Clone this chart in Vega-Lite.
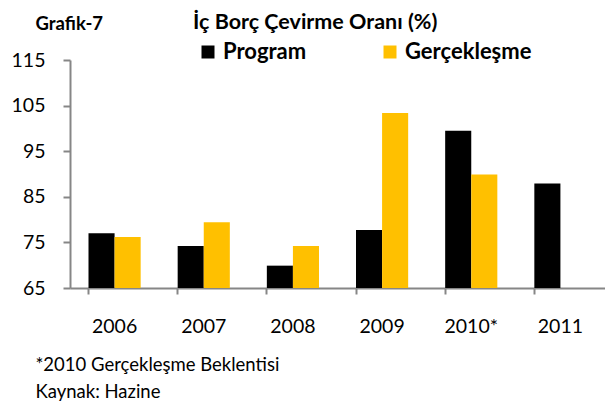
{
  "$schema": "https://vega.github.io/schema/vega-lite/v6.json",
  "width": 535,
  "height": 228,
  "autosize": {"type": "none"},
  "padding": {"left": 70, "top": 60, "right": 0, "bottom": 119},
  "background": "white",
  "config": {
    "font": "Lato",
    "view": {"stroke": null},
    "axis": {"labelFont": "Lato", "titleFont": "Lato"}
  },
  "title": {
    "text": "İç Borç Çevirme Oranı (%)",
    "anchor": "start",
    "frame": "group",
    "dx": 123,
    "dy": 31,
    "offset": 12,
    "font": "Lato",
    "fontSize": 21.5,
    "fontWeight": "bold",
    "color": "#000000"
  },
  "data": {
    "values": [
      {"yil": "2006", "seri": "Program", "oran": 77.0},
      {"yil": "2006", "seri": "Gerçekleşme", "oran": 76.2},
      {"yil": "2007", "seri": "Program", "oran": 74.2},
      {"yil": "2007", "seri": "Gerçekleşme", "oran": 79.4},
      {"yil": "2008", "seri": "Program", "oran": 69.9},
      {"yil": "2008", "seri": "Gerçekleşme", "oran": 74.2},
      {"yil": "2009", "seri": "Program", "oran": 77.7},
      {"yil": "2009", "seri": "Gerçekleşme", "oran": 103.4},
      {"yil": "2010*", "seri": "Program", "oran": 99.5},
      {"yil": "2010*", "seri": "Gerçekleşme", "oran": 89.9},
      {"yil": "2011", "seri": "Program", "oran": 87.9}
    ]
  },
  "mark": {"type": "bar"},
  "encoding": {
    "x": {
      "field": "yil",
      "type": "nominal",
      "sort": ["2006", "2007", "2008", "2009", "2010*", "2011"],
      "scale": {"paddingInner": 0.415, "paddingOuter": 0.2075},
      "axis": {
        "labelAngle": 0,
        "labelFontSize": 19.5,
        "labelColor": "#000000",
        "labelPadding": 23,
        "domainColor": "#868686",
        "domainWidth": 2,
        "tickColor": "#868686",
        "tickWidth": 2,
        "tickSize": 6,
        "bandPosition": 0,
        "title": ["*2010 Gerçekleşme Beklentisi", "Kaynak: Hazine"],
        "titleFontSize": 18.5,
        "titleFontWeight": "normal",
        "titleColor": "#000000",
        "titleAnchor": "start",
        "titleAlign": "left",
        "titleBaseline": "alphabetic",
        "titleX": -35,
        "titleY": 82,
        "titleLineHeight": 27
      }
    },
    "xOffset": {
      "field": "seri",
      "type": "nominal",
      "sort": ["Program", "Gerçekleşme"],
      "scale": {"domain": ["Program", "Gerçekleşme"], "paddingInner": 0, "paddingOuter": 0}
    },
    "y": {
      "field": "oran",
      "type": "quantitative",
      "scale": {"domain": [65, 115], "zero": false, "nice": false},
      "axis": {
        "values": [65, 75, 85, 95, 105, 115],
        "grid": false,
        "labelFontSize": 19.5,
        "labelColor": "#000000",
        "labelPadding": 18,
        "domainColor": "#868686",
        "domainWidth": 2,
        "tickColor": "#868686",
        "tickWidth": 2,
        "tickSize": 7,
        "title": "Grafik-7",
        "titleAngle": 0,
        "titleFontSize": 18.5,
        "titleFontWeight": "bold",
        "titleColor": "#000000",
        "titleAlign": "left",
        "titleBaseline": "alphabetic",
        "titleX": -35,
        "titleY": -31
      }
    },
    "y2": {"datum": 65},
    "color": {
      "field": "seri",
      "type": "nominal",
      "sort": ["Program", "Gerçekleşme"],
      "scale": {"domain": ["Program", "Gerçekleşme"], "range": ["#000000", "#FFC000"]},
      "legend": {
        "title": null,
        "orient": "none",
        "legendX": 127,
        "legendY": -19,
        "direction": "horizontal",
        "symbolType": "square",
        "symbolSize": 169,
        "symbolStrokeWidth": 0,
        "symbolOpacity": 1,
        "labelFontSize": 22,
        "labelFontWeight": "bold",
        "labelColor": "#000000",
        "labelOffset": 4,
        "columnPadding": 72,
        "padding": 0
      }
    }
  }
}
